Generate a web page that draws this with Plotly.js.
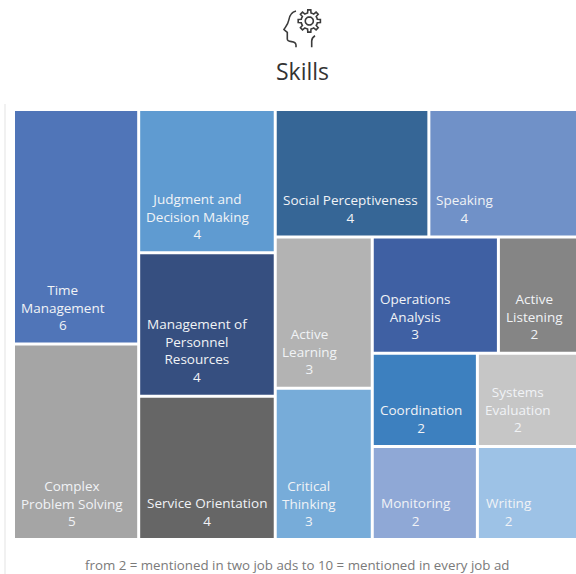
<!DOCTYPE html>
<html>
<head>
<meta charset="utf-8">
<script src="https://cdn.plot.ly/plotly-3.0.1.min.js"></script>
<style>
  html, body { margin: 0; padding: 0; background: #fff; width: 576px; height: 574px; overflow: hidden; }
  #chart { width: 581px; height: 574px; }
</style>
</head>
<body>
<div id="chart"></div>
<script>
// Skills named in job ads, in tile order.
const skills = ["Time Management", "Complex Problem Solving", "Judgment and Decision Making",
  "Management of Personnel Resources", "Service Orientation", "Social Perceptiveness", "Speaking",
  "Active Learning", "Critical Thinking", "Operations Analysis", "Active Listening",
  "Coordination", "Monitoring", "Systems Evaluation", "Writing"];
const mentions = [6, 5, 4, 4, 4, 4, 4, 3, 3, 3, 2, 2, 2, 2, 2];
const tileColors = ["#5075b8", "#a5a5a5", "#5f9bd1", "#364f80", "#666666", "#366696", "#7091c8",
  "#b3b3b3", "#77acd9", "#3f60a3", "#858585", "#3d80bf", "#8fa8d6", "#c6c6c6", "#9dc2e6"];
const wrappedNames = ["Time<br>Management", "Complex<br>Problem Solving", "Judgment and<br>Decision Making",
  "Management of<br>Personnel<br>Resources", "Service Orientation", "Social Perceptiveness", "Speaking",
  "Active<br>Learning", "Critical<br>Thinking", "Operations<br>Analysis", "Active<br>Listening",
  "Coordination", "Monitoring", "Systems<br>Evaluation", "Writing"];

// Grouping that fixes the tile arrangement under slice-dice packing.
const groupNames = ["all", "col1", "col2", "rest", "topRow", "lower", "col3", "lowerRight", "midRow", "grid", "gridLeft", "gridRight"];
const groupParents = ["", "all", "all", "all", "rest", "rest", "lower", "lower", "lowerRight", "lowerRight", "grid", "grid"];
const skillParents = ["col1", "col1", "col2", "col2", "col2", "topRow", "topRow",
  "col3", "col3", "midRow", "midRow", "gridLeft", "gridLeft", "gridRight", "gridRight"];

// Label block centres in page pixels.
const labelX = [63, 72, 197, 197, 207, 350, 465, 310, 309, 415, 534, 421, 416, 518, 509];
const labelY = [307.2, 503, 216, 350, 512, 209, 209, 351, 503, 316, 316, 419, 512, 409, 512];

const PLOT = { left: 15, right: 581, top: 111, bottom: 538 };
const paperX = px => (px - PLOT.left) / (PLOT.right - PLOT.left);
const paperY = py => (PLOT.bottom - py) / (PLOT.bottom - PLOT.top);

const labelAnnotations = skills.map((_, i) => ({
  xref: "paper", yref: "paper", x: paperX(labelX[i]), y: paperY(labelY[i]),
  xanchor: "center", yanchor: "middle", align: "center", showarrow: false,
  text: wrappedNames[i] + "<br>" + mentions[i],
  font: { family: "Open Sans, sans-serif", size: 13.5, color: "#f1f3f6" }
}));

// Head-and-gear emblem, drawn in pixels around the emblem centre.
const EMBLEM = { x: 303, y: 28 };
const rel = (x, y) => (x - EMBLEM.x).toFixed(1) + "," + (EMBLEM.y - y).toFixed(1);

function gearPath(cx, cy, rootR, tipR, teeth) {
  let d = "";
  const step = 2 * Math.PI / teeth;
  for (let k = 0; k < teeth; k++) {
    const a = k * step - Math.PI / 2;
    const pts = [[rootR, -0.5 * step], [rootR, -0.27 * step], [tipR, -0.17 * step],
                 [tipR, 0.17 * step], [rootR, 0.27 * step]];
    pts.forEach(([r, off], j) => {
      const x = cx + r * Math.cos(a + off), y = cy + r * Math.sin(a + off);
      d += (k === 0 && j === 0 ? "M" : "L") + rel(x, y) + " ";
    });
  }
  return d + "Z";
}
function circlePath(cx, cy, r) {
  let d = "";
  for (let k = 0; k < 24; k++) {
    const a = k / 24 * 2 * Math.PI;
    d += (k ? "L" : "M") + rel(cx + r * Math.cos(a), cy + r * Math.sin(a)) + " ";
  }
  return d + "Z";
}
const headPath = "M" + rel(296, 11) + " C" + rel(292, 12) + " " + rel(289.5, 15.5) + " " + rel(288.8, 20) +
  " C" + rel(288.2, 24) + " " + rel(285.5, 27) + " " + rel(284, 29.5) +
  " L" + rel(287.3, 32.3) + " L" + rel(287.3, 39) + " C" + rel(287.3, 41) + " " + rel(289.5, 41.4) + " " + rel(291.5, 41.6) +
  " C" + rel(294, 41.8) + " " + rel(295.8, 43) + " " + rel(296, 45) + " L" + rel(296, 47.3);
const neckPath = "M" + rel(311.7, 47.3) + " L" + rel(311.7, 41) + " C" + rel(311.8, 38.5) + " " + rel(313, 37) + " " + rel(315, 35.8);

const emblemShape = path => ({
  type: "path", xref: "paper", yref: "paper", xsizemode: "pixel", ysizemode: "pixel",
  xanchor: paperX(EMBLEM.x), yanchor: paperY(EMBLEM.y), path,
  line: { color: "#3b3b3b", width: 1.6 }, layer: "above"
});

const traces = [{
  type: "treemap",
  ids: groupNames.concat(skills),
  labels: groupNames.concat(skills),
  parents: groupParents.concat(skillParents),
  values: groupNames.map(() => 0).concat(mentions),
  branchvalues: "remainder",
  sort: false,
  textinfo: "none",
  hoverinfo: "label+value",
  marker: {
    colors: groupNames.map(() => "#ffffff").concat(tileColors),
    line: { width: 0 },
    pad: { t: 0, l: 0, r: 0, b: 0 },
    depthfade: false
  },
  tiling: { packing: "slice-dice", pad: 3 },
  pathbar: { visible: false },
  domain: { x: [0, 1], y: [0, 1] }
}];

const layout = {
  width: 581, height: 574,
  margin: { l: PLOT.left, r: 0, t: PLOT.top, b: 574 - PLOT.bottom },
  paper_bgcolor: "#ffffff",
  showlegend: false,
  title: {
    text: "Skills", xref: "paper", yref: "container",
    x: paperX(302.5), xanchor: "center", y: 1 - 72 / 574, yanchor: "middle",
    font: { family: "Open Sans, sans-serif", size: 23, color: "#333333" }
  },
  annotations: labelAnnotations.concat([{
    xref: "paper", yref: "paper", x: paperX(297), y: paperY(565),
    xanchor: "center", yanchor: "middle", showarrow: false,
    text: "from 2 = mentioned in two job ads to 10 = mentioned in every job ad",
    font: { family: "Open Sans, sans-serif", size: 13.3, color: "#7a7a7a" }
  }]),
  shapes: [
    emblemShape(headPath), emblemShape(neckPath),
    emblemShape(gearPath(309.3, 21, 8.2, 11.2, 8)), emblemShape(circlePath(309.3, 21, 4)),
    { type: "line", xref: "paper", yref: "paper", x0: paperX(5), x1: paperX(5), y0: paperY(574), y1: paperY(104),
      line: { color: "#ececec", width: 1.5 } }
  ]
};

Plotly.newPlot("chart", traces, layout, { displayModeBar: false });
</script>
</body>
</html>
